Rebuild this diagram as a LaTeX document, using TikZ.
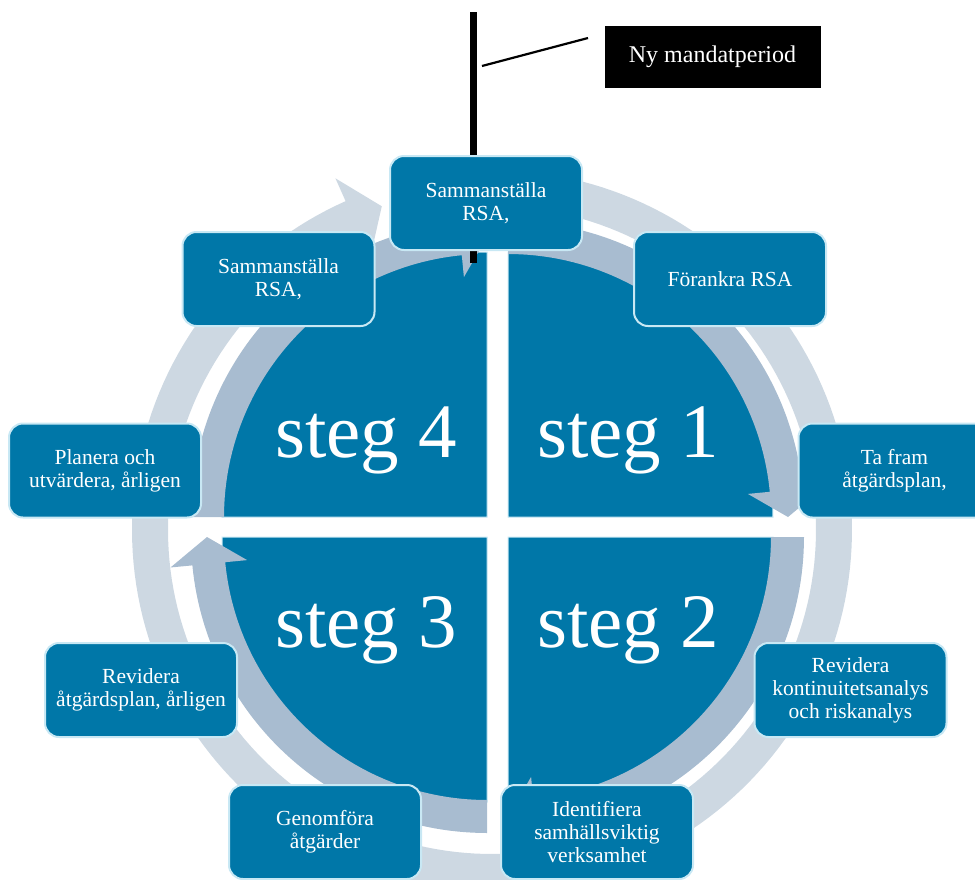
\documentclass[tikz,border=0pt]{standalone}
\usepackage{fontspec}
\setmainfont{Liberation Serif}
\definecolor{pieblue}{RGB}{0,119,168}
\definecolor{boxedge}{RGB}{200,232,244}
\definecolor{midband}{RGB}{168,188,208}
\definecolor{lightband}{RGB}{205,216,226}
\newcommand{\quadarrow}[3]{%
  \pgfmathsetmacro{\qaE}{#3-84.5}%
  \pgfmathsetmacro{\qaT}{#3-90}%
  \fill[midband] plot[domain=#3:\qaE,samples=60] ({#1+296*cos(\x)},{#2-296*sin(\x)})
    -- ({#1+318*cos(\qaE)},{#2-318*sin(\qaE)})
    -- ({#1+280*cos(\qaT)},{#2-280*sin(\qaT)})
    -- ({#1+241*cos(\qaE)},{#2-241*sin(\qaE)})
    -- plot[domain=\qaE:#3,samples=60] ({#1+263*cos(\x)},{#2-263*sin(\x)}) -- cycle;}
\newcommand{\quadpie}[4]{%
  \filldraw[fill=pieblue,draw=boxedge,line width=1pt] (#1,#2) -- plot[domain=#3:#4,samples=60] ({#1+265*cos(\x)},{#2-265*sin(\x)}) -- cycle;}
\begin{document}
\begin{tikzpicture}[x=1pt,y=-1pt,
  box/.style={rounded corners=14pt, fill=pieblue, draw=boxedge, line width=2pt,
    minimum width=192pt, minimum height=94pt, text=white, align=center,
    font=\fontsize{21.5}{23}\selectfont, inner sep=2pt},
  stegtext/.style={text=white, font=\fontsize{77}{80}\selectfont, anchor=base west, inner sep=0pt},
  blackbox/.style={fill=black, text=white, minimum width=216pt, minimum height=62pt,
    font=\fontsize{24}{27}\selectfont, inner sep=0pt}]
\useasboundingbox (0,0) rectangle (975,879);
\clip (0,0) rectangle (975,879);
% outer light ring (clockwise arrow)
\fill[lightband] plot[domain=100:-246,samples=200] ({492+360*cos(\x)},{530-360*sin(\x)})
  -- ({492+385*cos(-246)},{530-385*sin(-246)})
  -- ({492+342*cos(-251.2)},{530-342*sin(-251.2)})
  -- ({492+299*cos(-246)},{530-299*sin(-246)})
  -- plot[domain=-246:100,samples=200] ({492+324*cos(\x)},{530-324*sin(\x)}) -- cycle;
% four quadrant pies
\quadpie{508}{517}{90}{0}
\quadpie{508}{537}{0}{-90}
\quadpie{487}{537}{-90}{-180}
\quadpie{487}{517}{180}{90}
% inner arrows
\quadarrow{508}{517}{90}
\quadarrow{508}{537}{0}
\quadarrow{487}{537}{-90}
\quadarrow{487}{517}{180}
% flag pole
\coordinate (poletop) at (473.5,12);
\coordinate (polebot) at (473.5,263);
\draw[line width=7pt] (poletop) -- (polebot);
% boxes
\node[box] (b1) at (486,203) {Sammanställa\\RSA,};
\node[box] (b2) at (278.5,279) {Sammanställa\\RSA,};
\node[box] (b3) at (730,279) {Förankra RSA};
\node[box] (b4) at (894.5,470.5) {Ta fram\\åtgärdsplan,};
\node[box] (b5) at (105,470.5) {Planera och\\utvärdera, årligen};
\node[box] (b6) at (141,690) {Revidera\\åtgärdsplan, årligen};
\node[box] (b7) at (325,832) {Genomföra\\åtgärder};
\node[box] (b8) at (597,832) {Identifiera\\samhällsviktig\\verksamhet};
\node[box] (b9) at (850.5,690) {Revidera\\kontinuitetsanalys\\och riskanalys};
% flag
\coordinate (flagA) at (482,66);
\coordinate (flagB) at (588,38);
\draw[line width=2.2pt] (flagA) -- (flagB);
\node[blackbox] (ny) at (712.5,57) {Ny mandatperiod};
% step labels
\node[stegtext] (s4) at (275,457) {steg 4};
\node[stegtext] (s1) at (537,457) {steg 1};
\node[stegtext] (s3) at (275,647) {steg 3};
\node[stegtext] (s2) at (537,647) {steg 2};
\end{tikzpicture}
\end{document}
